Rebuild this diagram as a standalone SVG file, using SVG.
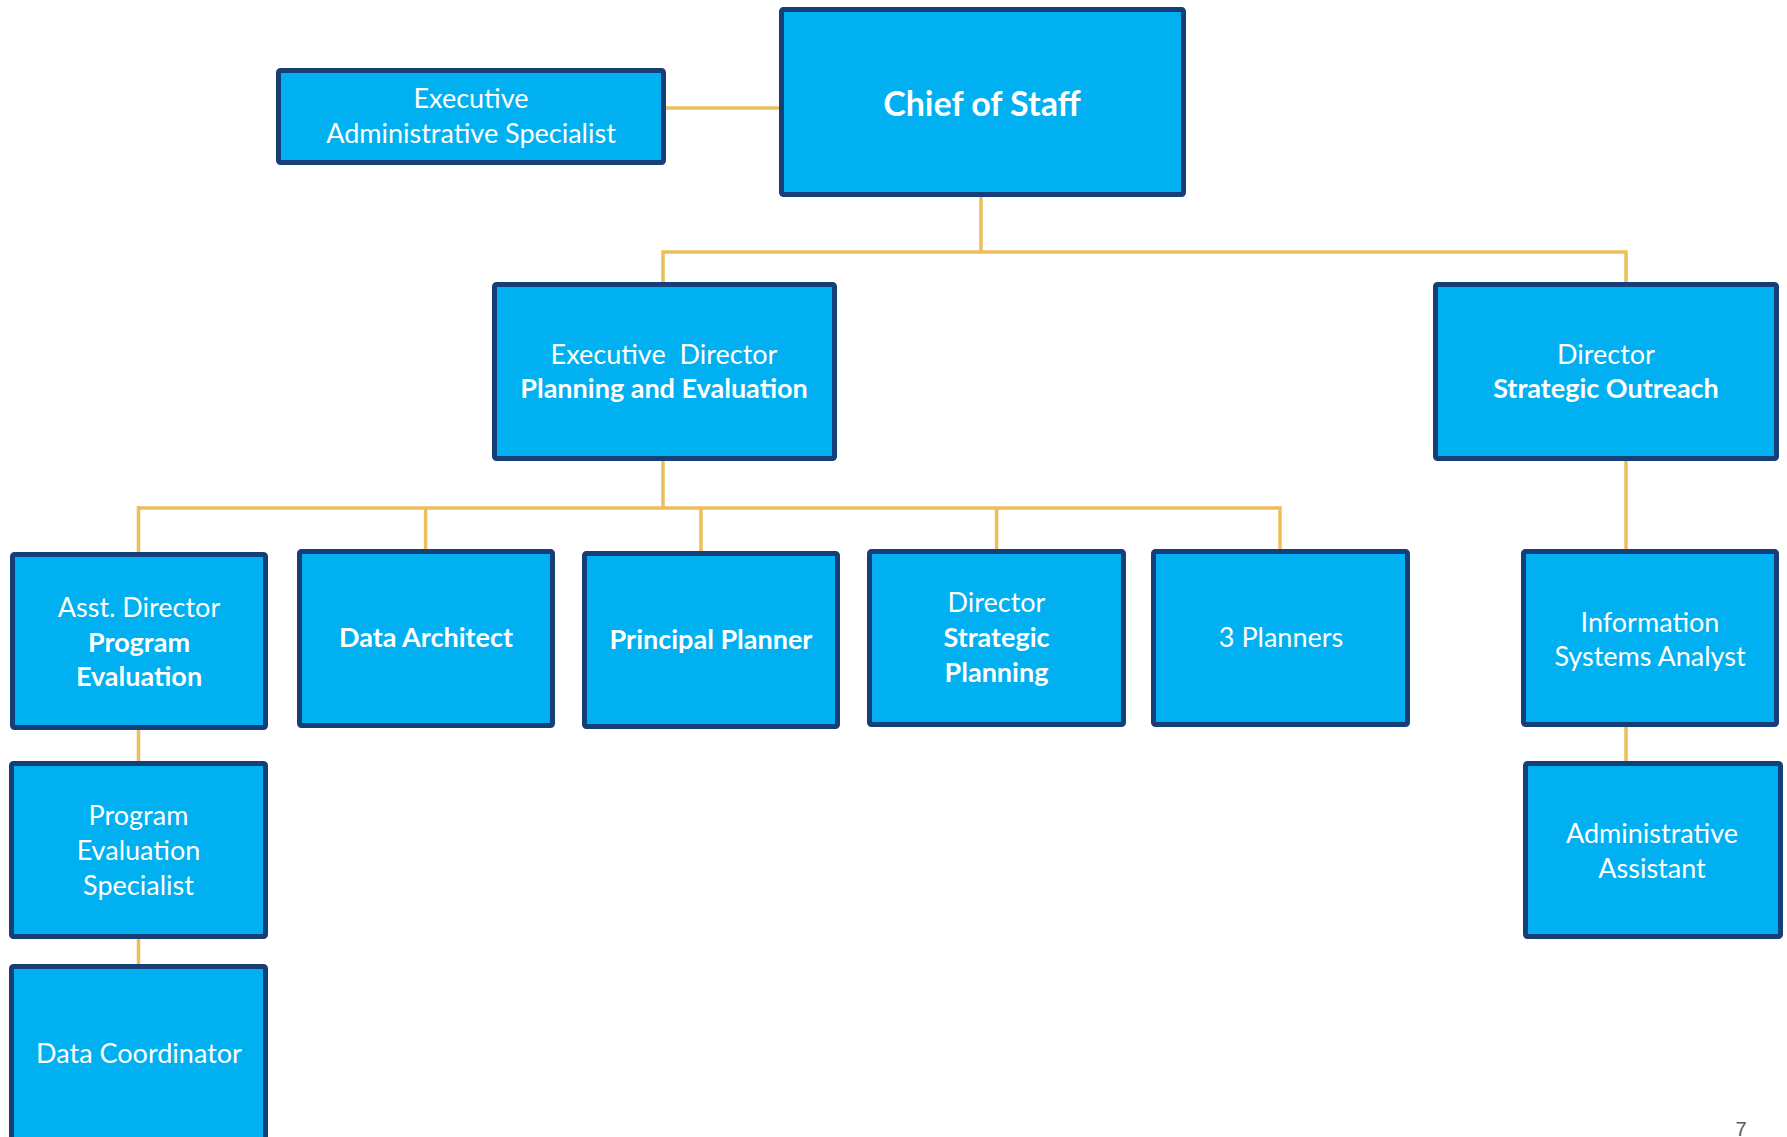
<svg xmlns="http://www.w3.org/2000/svg" width="1787" height="1137" viewBox="0 0 1787 1137">
<style>
.box{fill:#00B0F0;stroke:#163E78;stroke-width:5;}
.t{font-family:Lato,"Open Sans","Liberation Sans",sans-serif;font-size:27px;fill:#FFFFFF;text-anchor:middle;}
.b{font-weight:bold;}
.con{fill:none;stroke:#EDBF5B;stroke-width:3.5;}
</style>
<rect width="1787" height="1137" fill="#FFFFFF"/>
<g id="connectors">
<path class="con" d="M666,108 H779"/>
<path class="con" d="M981,197 V252"/>
<path class="con" d="M663,282 V252 H1626 V282"/>
<path class="con" d="M663,461 V508"/>
<path class="con" d="M138.5,552 V506 M138.5,508 H1280 V549"/>
<path class="con" d="M425.6,508 V549"/>
<path class="con" d="M701,508 V551"/>
<path class="con" d="M996.6,508 V549"/>
<path class="con" d="M1626,461 V549"/>
<path class="con" d="M1626,727 V761"/>
<path class="con" d="M138.5,730 V761"/>
<path class="con" d="M138.5,939 V964"/>
</g>
<g id="exec-admin-specialist">
<rect class="box" x="278.5" y="70.5" width="385" height="92" rx="2"/>
<text class="t" x="471" y="108">Executive</text>
<text class="t" x="471" y="143">Administrative Specialist</text>
</g>
<g id="chief-of-staff">
<rect class="box" x="781.5" y="9.5" width="402" height="185" rx="2"/>
<text class="t b" x="982" y="116" style="font-size:34px">Chief of Staff</text>
</g>
<g id="exec-director">
<rect class="box" x="494.5" y="284.5" width="340" height="174" rx="2"/>
<text class="t" x="664" y="364" xml:space="preserve">Executive  Director</text>
<text class="t b" x="664" y="398">Planning and Evaluation</text>
</g>
<g id="director-strategic-outreach">
<rect class="box" x="1435.5" y="284.5" width="341" height="174" rx="2"/>
<text class="t" x="1606" y="364">Director</text>
<text class="t b" x="1606" y="398">Strategic Outreach</text>
</g>
<g id="asst-director">
<rect class="box" x="12.5" y="554.5" width="253" height="173" rx="2"/>
<text class="t" x="139" y="617">Asst. Director</text>
<text class="t b" x="139" y="652">Program</text>
<text class="t b" x="139" y="686">Evaluation</text>
</g>
<g id="data-architect">
<rect class="box" x="299.5" y="551.5" width="253" height="174" rx="2"/>
<text class="t b" x="426" y="647">Data Architect</text>
</g>
<g id="principal-planner">
<rect class="box" x="584.5" y="553.5" width="253" height="173" rx="2"/>
<text class="t b" x="711" y="649">Principal Planner</text>
</g>
<g id="director-strategic-planning">
<rect class="box" x="869.5" y="551.5" width="254" height="173" rx="2"/>
<text class="t" x="996.5" y="612">Director</text>
<text class="t b" x="996.5" y="647">Strategic</text>
<text class="t b" x="996.5" y="682">Planning</text>
</g>
<g id="three-planners">
<rect class="box" x="1153.5" y="551.5" width="254" height="173" rx="2"/>
<text class="t" x="1281" y="647">3 Planners</text>
</g>
<g id="info-systems-analyst">
<rect class="box" x="1523.5" y="551.5" width="253" height="173" rx="2"/>
<text class="t" x="1650" y="632">Information</text>
<text class="t" x="1650" y="666">Systems Analyst</text>
</g>
<g id="admin-assistant">
<rect class="box" x="1525.5" y="763.5" width="255" height="173" rx="2"/>
<text class="t" x="1652" y="843">Administrative</text>
<text class="t" x="1652" y="878">Assistant</text>
</g>
<g id="program-eval-specialist">
<rect class="box" x="11.5" y="763.5" width="254" height="173" rx="2"/>
<text class="t" x="138.5" y="825">Program</text>
<text class="t" x="138.5" y="860">Evaluation</text>
<text class="t" x="138.5" y="895">Specialist</text>
</g>
<g id="data-coordinator">
<rect class="box" x="11.5" y="966.5" width="254" height="200" rx="2"/>
<text class="t" x="139" y="1063">Data Coordinator</text>
</g>
<text x="1741" y="1136" style="font-family:'Liberation Sans',sans-serif;font-size:20px;fill:#595959;text-anchor:middle">7</text>
</svg>
